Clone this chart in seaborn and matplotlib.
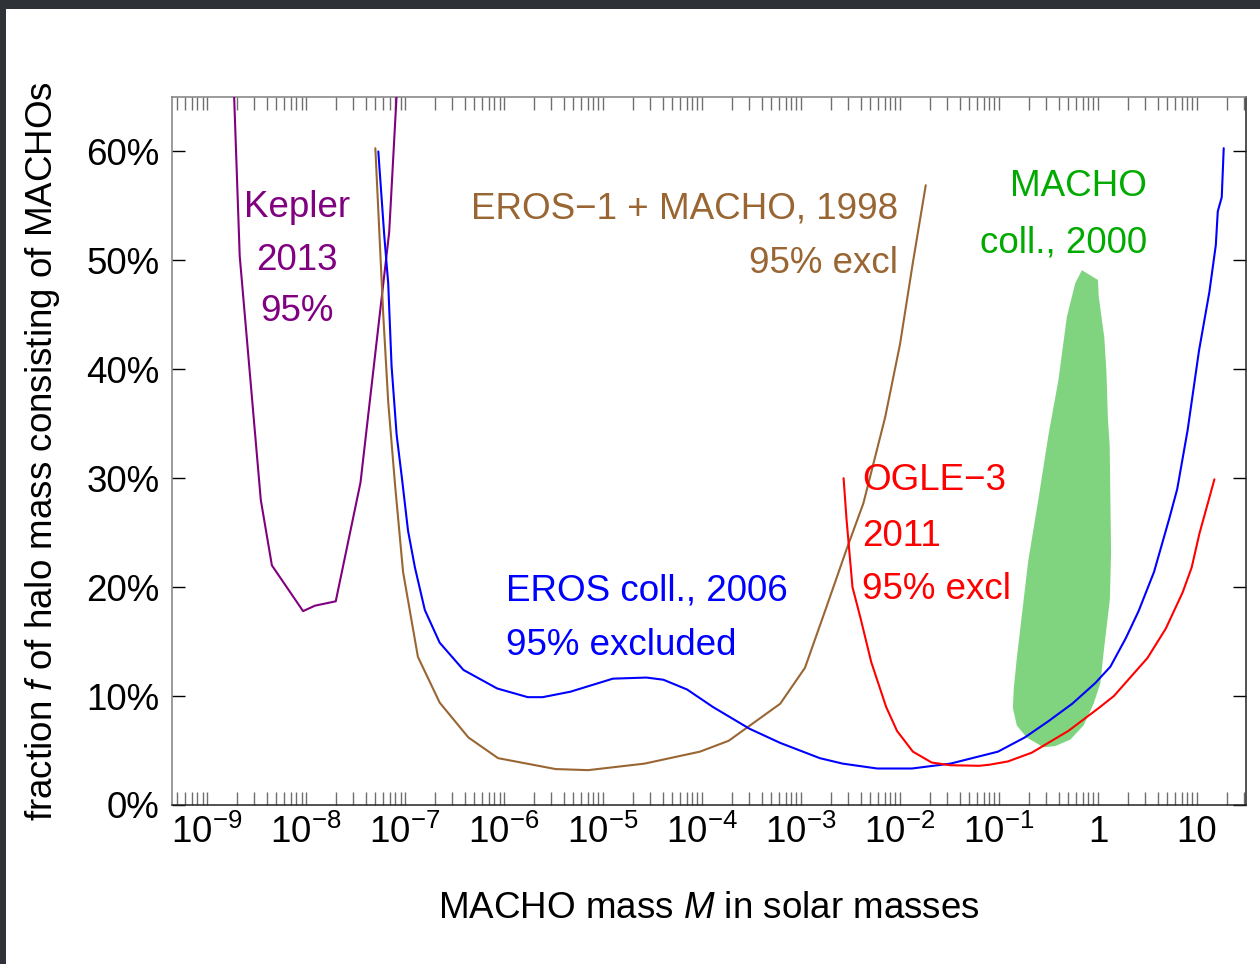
import matplotlib
matplotlib.use("Agg")
import matplotlib.pyplot as plt
from matplotlib.patches import Rectangle
from matplotlib.ticker import FixedLocator, LogLocator, NullFormatter, FixedFormatter
import numpy as np
import pandas as pd
import seaborn as sns

# Upper limits on the halo fraction f (percent) versus log10(MACHO mass / M_sun)
kepler_logm = [-8.73, -8.67, -8.457, -8.345, -8.03, -7.91, -7.70, -7.45, -7.16, -7.08]
kepler_pct = [66.0, 50.4, 28.0, 22.0, 17.8, 18.3, 18.7, 29.6, 52.6, 66.0]

eros_macho_logm = [-7.30, -7.22, -7.17, -7.10, -7.02, -6.87, -6.65, -6.36, -6.06,
                   -5.48, -5.15, -4.58, -4.02, -3.73, -3.21, -2.96, -2.75, -2.535,
                   -2.37, -2.15, -2.00, -1.87, -1.74]
eros_macho_pct = [60.3, 45.0, 37.0, 29.3, 21.4, 13.6, 9.4, 6.2, 4.3,
                  3.3, 3.2, 3.8, 4.9, 5.9, 9.3, 12.6, 18.0, 23.6,
                  27.7, 35.6, 42.3, 49.8, 56.9]

eros_logm = [-7.27, -7.21, -7.17, -7.136, -7.085, -7.03, -6.97, -6.90, -6.80, -6.65,
             -6.41, -6.07, -5.76, -5.61, -5.33, -4.90, -4.56, -4.39, -4.15, -3.89,
             -3.52, -3.21, -2.81, -2.58, -2.23, -1.88, -1.49, -1.01, -0.74, -0.50,
             -0.26, -0.027, 0.125, 0.28, 0.41, 0.566, 0.72, 0.80, 0.905, 1.02,
             1.125, 1.19, 1.21, 1.25, 1.27]
eros_pct = [60.0, 52.3, 47.9, 40.3, 34.0, 29.9, 25.2, 21.8, 17.9, 14.9,
            12.4, 10.7, 9.9, 9.9, 10.4, 11.6, 11.7, 11.5, 10.6, 9.0,
            7.0, 5.7, 4.3, 3.8, 3.35, 3.35, 3.8, 4.9, 6.2, 7.7,
            9.3, 11.2, 12.7, 15.3, 17.8, 21.4, 26.3, 29.0, 34.4, 41.7,
            47.1, 51.4, 54.5, 55.8, 60.3]

ogle_logm = [-2.57, -2.54, -2.48, -2.40, -2.29, -2.14, -2.03, -1.87, -1.68, -1.49,
             -1.20, -1.095, -0.91, -0.67, -0.30, 0.007, 0.16, 0.50, 0.685, 0.854,
             0.946, 1.024, 1.176]
ogle_pct = [30.0, 26.2, 20.0, 17.2, 13.1, 9.0, 6.8, 4.9, 3.9, 3.65,
            3.6, 3.7, 4.0, 4.8, 6.8, 8.9, 10.0, 13.5, 16.2, 19.5,
            21.8, 24.9, 29.9]

# Outline of the MACHO collaboration (2000) favoured region
macho_logm = [-0.163, 0.0, 0.007, 0.064, 0.085, 0.10, 0.118, 0.132, 0.12, 0.058,
              0.024, -0.044, -0.146, -0.28, -0.434, -0.55, -0.72, -0.82, -0.86, -0.85,
              -0.82, -0.705, -0.60, -0.50, -0.40, -0.315, -0.23]
macho_pct = [49.1, 48.2, 46.7, 42.9, 39.8, 35.5, 33.0, 23.2, 18.9, 14.1,
             11.2, 9.3, 7.3, 6.0, 5.4, 5.3, 6.2, 7.3, 8.9, 10.8,
             13.5, 22.4, 28.2, 34.0, 39.0, 44.8, 47.9]

decade_exponents = list(range(-9, 2))
decade_labels = [r"$\mathregular{10^{-9}}$", r"$\mathregular{10^{-8}}$",
                 r"$\mathregular{10^{-7}}$", r"$\mathregular{10^{-6}}$",
                 r"$\mathregular{10^{-5}}$", r"$\mathregular{10^{-4}}$",
                 r"$\mathregular{10^{-3}}$", r"$\mathregular{10^{-2}}$",
                 r"$\mathregular{10^{-1}}$", "1", "10"]
percent_ticks = [0, 10, 20, 30, 40, 50, 60]
percent_labels = ["0%", "10%", "20%", "30%", "40%", "50%", "60%"]

PURPLE = "#800080"
BROWN = "#996633"
BLUE = "#0000FF"
RED = "#FF0000"
GREEN = "#00AA00"
GREEN_FILL = "#80D480"

sns.set_theme(style="white")
plt.rcParams["font.family"] = ["Liberation Sans", "DejaVu Sans"]
plt.rcParams["mathtext.fontset"] = "custom"
plt.rcParams["mathtext.rm"] = "Liberation Sans"
plt.rcParams["mathtext.it"] = "Liberation Sans:italic"
plt.rcParams["text.color"] = "black"
plt.rcParams["axes.labelcolor"] = "black"
plt.rcParams["xtick.labelcolor"] = "black"
plt.rcParams["ytick.labelcolor"] = "black"

FS = 26.5

fig = plt.figure(figsize=(12.6, 9.64), dpi=100)
fig.patch.set_facecolor("white")
ax = fig.add_axes([172 / 1260, 1 - 805 / 964, (1246 - 172) / 1260, (805 - 97) / 964])
ax.set_facecolor("white")
ax.set_xscale("log")

# dark window frame along the top and left edges
fig.patches.append(Rectangle((0, 1 - 9 / 964), 1, 9 / 964, transform=fig.transFigure,
                             facecolor="#2f3337", edgecolor="none", zorder=10))
fig.patches.append(Rectangle((0, 0), 6 / 1260, 1, transform=fig.transFigure,
                             facecolor="#2f3337", edgecolor="none", zorder=10))

ax.fill(10 ** np.array(macho_logm), macho_pct, color=GREEN_FILL, lw=0, zorder=1)

series = [
    (kepler_logm, kepler_pct, PURPLE),
    (eros_macho_logm, eros_macho_pct, BROWN),
    (eros_logm, eros_pct, BLUE),
    (ogle_logm, ogle_pct, RED),
]
for logm, pct, col in series:
    df = pd.DataFrame({"mass": 10 ** np.array(logm), "f": pct})
    sns.lineplot(data=df, x="mass", y="f", color=col, lw=1.5, sort=False,
                 estimator=None, ax=ax, zorder=3)

ax.set_xlim(10 ** -9.354, 10 ** 1.495)
ax.set_ylim(0, 65)

# axis ticks
ax.xaxis.set_major_locator(FixedLocator([10.0 ** k for k in decade_exponents]))
ax.xaxis.set_major_formatter(FixedFormatter(decade_labels))
ax.xaxis.set_minor_locator(LogLocator(base=10, subs=range(2, 10), numticks=100))
ax.xaxis.set_minor_formatter(NullFormatter())
ax.tick_params(axis="x", which="both", direction="in", length=9.4, width=1.0,
               color="#6e6e6e", top=True, bottom=True, labelsize=FS, pad=7,
               labelcolor="black")
ax.set_yticks(percent_ticks)
ax.set_yticklabels(percent_labels)
ax.tick_params(axis="y", which="major", direction="in", length=9.4, width=1.0,
               color="black", left=True, right=True, labelsize=FS, pad=9,
               labelcolor="black")
ax.tick_params(axis="y", which="minor", left=False, right=False)

for side in ["left", "top"]:
    ax.spines[side].set_color("#808080")
    ax.spines[side].set_linewidth(1.1)
for side in ["bottom", "right"]:
    ax.spines[side].set_color("#222222")
    ax.spines[side].set_linewidth(1.1)

ax.set_xlabel(r"MACHO mass $M$ in solar masses", fontsize=FS, color="black")
ax.xaxis.set_label_coords(0.5, -0.121)
ax.set_ylabel(r"fraction $f$ of halo mass consisting of MACHOs", fontsize=FS, color="black")
ax.yaxis.set_label_coords(-0.1024, 0.5)

# annotations
for txt, y in zip(["Kepler", "2013", "95%"], [54.0, 49.1, 44.4]):
    ax.text(10 ** -8.09, y, txt, color=PURPLE, fontsize=FS, ha="center", va="baseline")
for txt, y in zip(["EROS\u22121 + MACHO, 1998", "95% excl"], [53.8, 48.8]):
    ax.text(10 ** -2.02, y, txt, color=BROWN, fontsize=FS, ha="right", va="baseline")
for txt, y in zip(["EROS coll., 2006", "95% excluded"], [18.8, 13.8]):
    ax.text(10 ** -5.98, y, txt, color=BLUE, fontsize=FS, ha="left", va="baseline")
for txt, y in zip(["OGLE\u22123", "2011", "95% excl"], [28.9, 23.8, 18.9]):
    ax.text(10 ** -2.384, y, txt, color=RED, fontsize=FS, ha="left", va="baseline")
for txt, y in zip(["MACHO", "coll., 2000"], [55.9, 50.7]):
    ax.text(10 ** 0.495, y, txt, color=GREEN, fontsize=FS, ha="right", va="baseline")

fig.savefig("out.png", dpi=100)
